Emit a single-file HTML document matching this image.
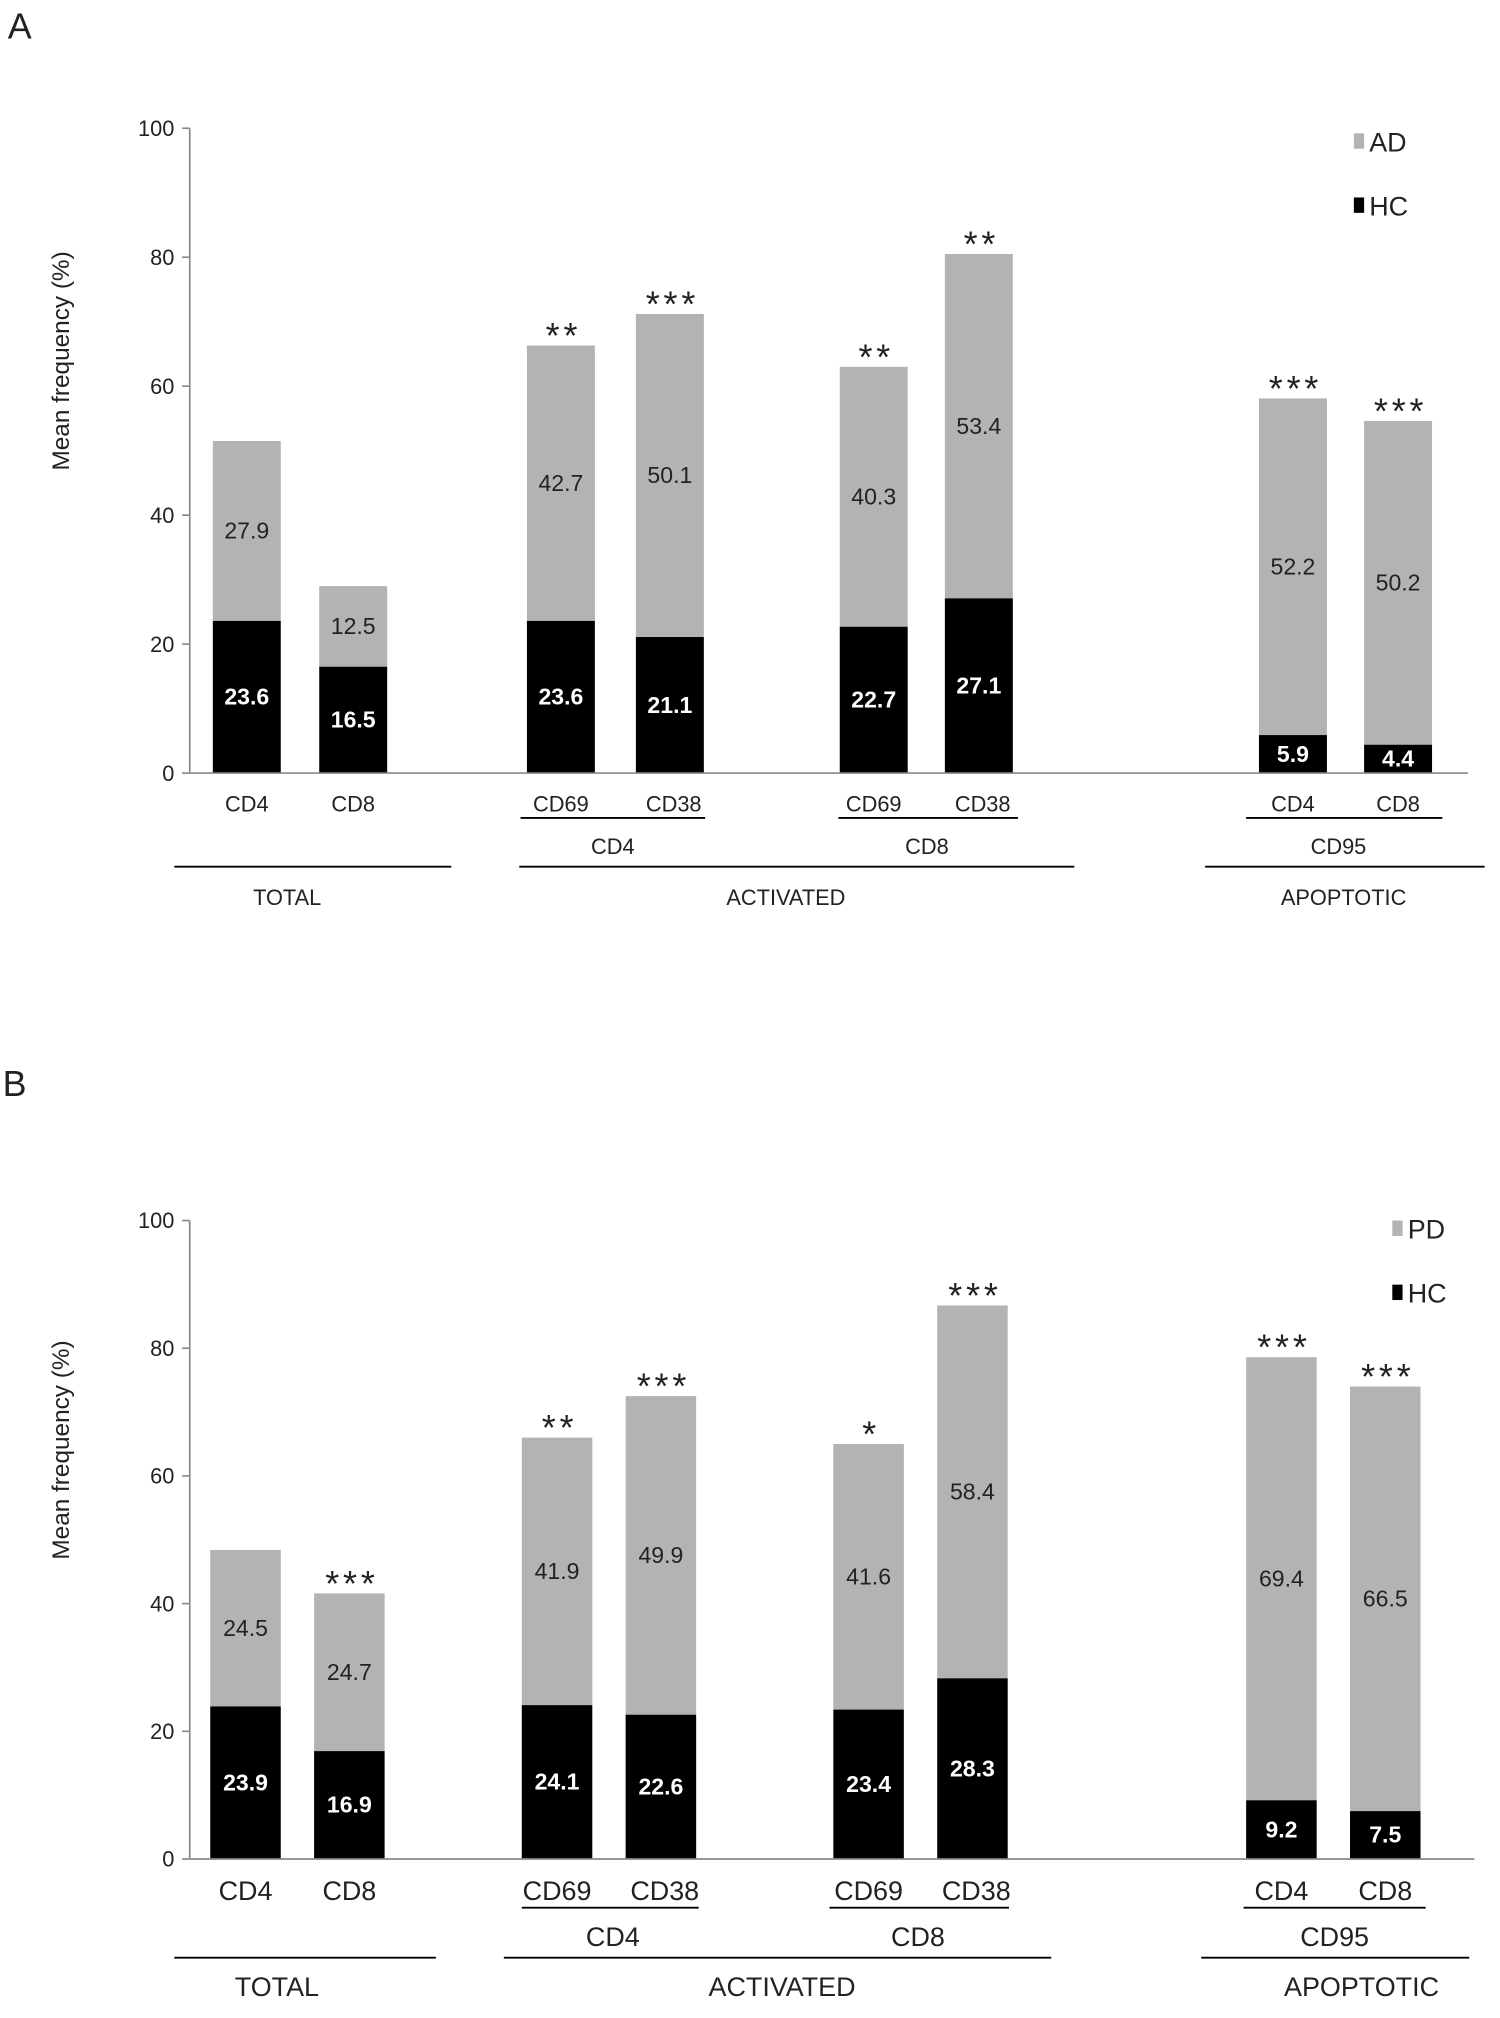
<!DOCTYPE html>
<html><head><meta charset="utf-8"><style>
html,body{margin:0;padding:0;background:#fff;}
svg{display:block;font-family:"Liberation Sans",sans-serif;}
</style></head><body>
<svg id="fig" width="1500" height="2018" viewBox="0 0 1170 1574" xmlns="http://www.w3.org/2000/svg"></svg>
<script>
const categories = ["CD4","CD8","CD69","CD38","CD69","CD38","CD4","CD8"];
const hcA = [23.6,16.5,23.6,21.1,22.7,27.1,5.9,4.4];
const adA = [27.9,12.5,42.7,50.1,40.3,53.4,52.2,50.2];
const starsA = ["","","**","***","**","**","***","***"];
const hcB = [23.9,16.9,24.1,22.6,23.4,28.3,9.2,7.5];
const pdB = [24.5,24.7,41.9,49.9,41.6,58.4,69.4,66.5];
const starsB = ["","***","**","***","*","***","***","***"];
const yTicks = [0,20,40,60,80,100];

const NS="http://www.w3.org/2000/svg";
const svg=document.getElementById('fig');
function mk(tag,attrs,parent,text){const e=document.createElementNS(NS,tag);for(const k in attrs)e.setAttribute(k,attrs[k]);if(text!==undefined)e.textContent=text;(parent||svg).appendChild(e);return e;}

const panels=[
 {id:'a',letter:'A',lx:6,ly:30,y0:603,y100:100,axEnd:1145,barX:[166,249,411,496,655,737,982,1064],bw:53,hc:hcA,top:adA,stars:starsA,leg:'AD',legX:1060,legY:110,catY:633,catFs:17,
  sub:[[406,550,'CD4',478],[654,794,'CD8',723],[972,1125,'CD95',1044]],subLineY:638,subLabY:666,
  grp:[[136,352,'TOTAL',224],[405,838,'ACTIVATED',613],[940,1158,'APOPTOTIC',1048]],grpLineY:676,grpLabY:706,grpFs:17},
 {id:'b',letter:'B',lx:2,ly:855,y0:1450,y100:952,axEnd:1150,barX:[164,245,407,488,650,731,972,1053],bw:55,hc:hcB,top:pdB,stars:starsB,leg:'PD',legX:1090,legY:958,catY:1482,catFs:21,
  sub:[[407,545,'CD4',478],[647,787,'CD8',716],[970,1112,'CD95',1041]],subLineY:1488,subLabY:1518,
  grp:[[136,340,'TOTAL',216],[393,820,'ACTIVATED',610],[937,1146,'APOPTOTIC',1062]],grpLineY:1527,grpLabY:1557,grpFs:21}
];

panels.forEach(p=>{
 const g=mk('g',{});
 
 
 const yS=v=>p.y0-(p.y0-p.y100)*v/100;
 const L=mk('text',{x:p.lx,y:p.ly,'font-size':28,fill:'#222'},g,p.letter);
 
 const ax=mk('line',{x1:148,y1:p.y100,x2:148,y2:p.y0,stroke:'#888','stroke-width':1.3},g);
 
 yTicks.forEach(t=>{
  const y=yS(t);
  mk('line',{x1:142,y1:y,x2:148,y2:y,stroke:'#888','stroke-width':1.3},g);
  const tl=mk('text',{x:136,y:y+6,'font-size':17,'text-anchor':'end',fill:'#222'},g,t);
  
 });
 const yt=mk('text',{x:0,y:0,'font-size':19,'text-anchor':'middle',fill:'#222',transform:`translate(54,${(p.y100+p.y0)/2-70}) rotate(-90)`},g,'Mean frequency  (%)');
 
 categories.forEach((c,i)=>{
  const x=p.barX[i],w=p.bw;
  const yh=yS(p.hc[i]),yt2=yS(p.hc[i]+p.top[i]);
  const gb=mk('rect',{x:x,y:yt2,width:w,height:yh-yt2,fill:'#b3b3b3'},g);
  
  const bb=mk('rect',{x:x,y:yh,width:w,height:p.y0-yh,fill:'#000'},g);
  
  const v1=mk('text',{x:x+w/2,y:(yh+p.y0)/2+6,'font-size':18,'font-weight':'bold','text-anchor':'middle',fill:'#fff'},g,p.hc[i].toFixed(1));
  
  const v2=mk('text',{x:x+w/2,y:(yt2+yh)/2+6,'font-size':18,'text-anchor':'middle',fill:'#222'},g,p.top[i].toFixed(1));
  
  if(p.stars[i]){
   const s=mk('text',{x:x+w/2+2,y:yt2+2,'font-size':28,'text-anchor':'middle',fill:'#222','letter-spacing':'3'},g,p.stars[i]);
   
  }
  const cl=mk('text',{x:x+w/2+(i>=2&&i<6&&i%2==1?3:0),y:p.catY,'font-size':p.catFs,'text-anchor':'middle',fill:'#222'},g,c);
  
 });
 const xa=mk('line',{x1:148,y1:p.y0,x2:p.axEnd,y2:p.y0,stroke:'#888','stroke-width':1.3},g);
 
 p.sub.forEach(s=>{
  mk('line',{x1:s[0],y1:p.subLineY,x2:s[1],y2:p.subLineY,stroke:'#000','stroke-width':1.5},g);
  const t=mk('text',{x:s[3],y:p.subLabY,'font-size':p.catFs,'text-anchor':'middle',fill:'#222'},g,s[2]);
  
 });
 p.grp.forEach(s=>{
  mk('line',{x1:s[0],y1:p.grpLineY,x2:s[1],y2:p.grpLineY,stroke:'#000','stroke-width':1.5},g);
  const t=mk('text',{x:s[3],y:p.grpLabY,'font-size':p.grpFs,'text-anchor':'middle',fill:'#222'},g,s[2]);
  
 });
 const lg=mk('g',{},g);
 
 mk('rect',{x:p.legX-4,y:p.legY-6,width:8,height:12,fill:'#b3b3b3'},lg);
 const l1=mk('text',{x:p.legX+8,y:p.legY+8,'font-size':21,fill:'#222'},lg,p.leg);
 
 mk('rect',{x:p.legX-4,y:p.legY+44,width:8,height:12,fill:'#000'},lg);
 const l2=mk('text',{x:p.legX+8,y:p.legY+58,'font-size':21,fill:'#222'},lg,'HC');
 
});
</script>
</body></html>
